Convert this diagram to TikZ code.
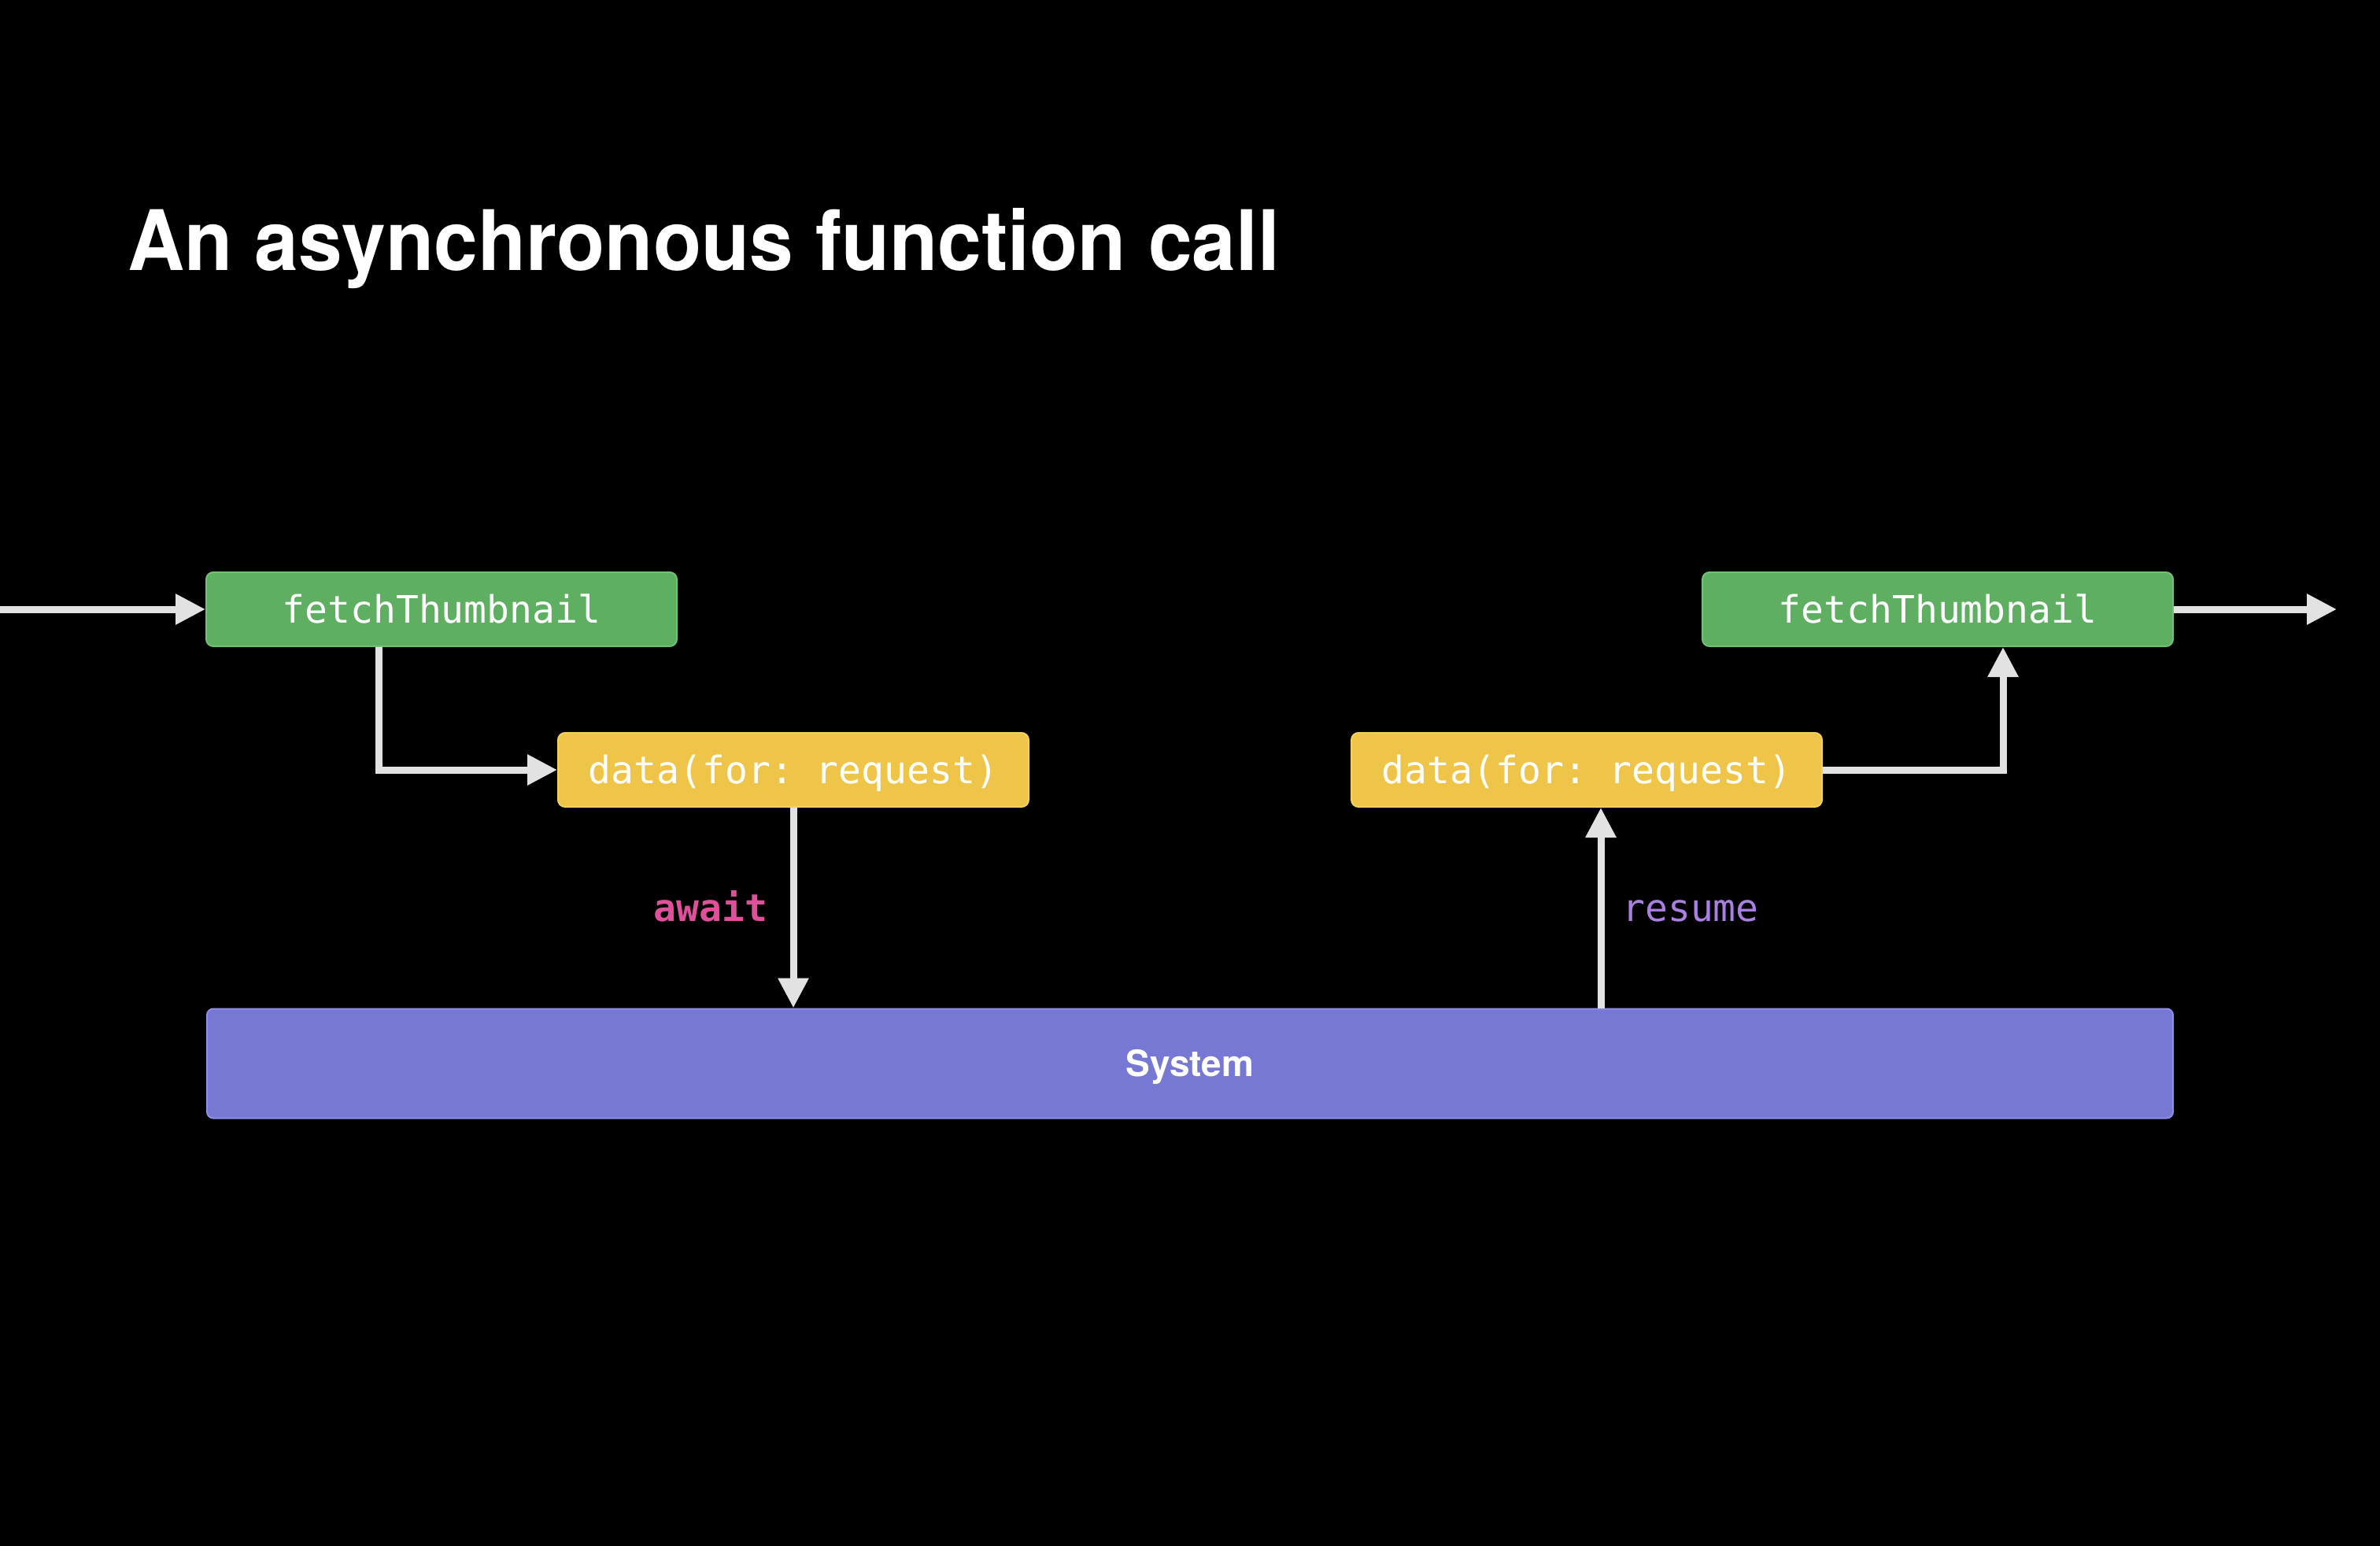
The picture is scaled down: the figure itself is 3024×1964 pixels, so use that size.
\documentclass[tikz,border=0pt]{standalone}
\usepackage{fontspec}
\setmainfont{TeX Gyre Heros}
\setmonofont{DejaVu Sans Mono}
\usetikzlibrary{arrows.meta}
\definecolor{grn}{HTML}{5FAF62}
\definecolor{grnb}{HTML}{72C074}
\definecolor{yel}{HTML}{EEC548}
\definecolor{yelb}{HTML}{F3D060}
\definecolor{sys}{HTML}{7778D3}
\definecolor{sysb}{HTML}{8D8FE6}
\definecolor{arr}{HTML}{E2E2E2}
\definecolor{awaitc}{HTML}{E0509A}
\definecolor{resumec}{HTML}{A97FE2}
\begin{document}
\begin{tikzpicture}[x=1pt,y=-1pt,
  codebox/.style={draw, line width=2pt, rounded corners=9pt, inner sep=0pt,
    minimum width=598pt, minimum height=94pt, text=white,
    font=\fontsize{48}{58}\selectfont\ttfamily, text height=34pt, text depth=0pt},
  greenbox/.style={codebox, fill=grn, draw=grnb},
  yellowbox/.style={codebox, fill=yel, draw=yelb},
  sysbox/.style={draw=sysb, fill=sys, line width=2pt, rounded corners=8pt, inner sep=0pt,
    minimum width=2498pt, minimum height=139pt, text=white,
    font=\fontsize{46}{54}\selectfont\bfseries, text height=32pt, text depth=0pt},
  conn/.style={draw=arr, line width=9pt, -{Triangle[length=38pt,width=37pt]}},
  lbl/.style={font=\fontsize{48}{58}\selectfont\ttfamily, anchor=base, inner sep=0pt}
]
\fill[black] (0,0) rectangle (3024,1964);
\useasboundingbox (0,0) rectangle (3024,1964);

\node[anchor=base west, inner sep=0pt, text=white] (title) at (162,343)
  {\fontsize{106}{120}\selectfont\bfseries\scalebox{0.945}[1]{An asynchronous function call}};

\node[greenbox] (g1) at (561,774) {fetchThumbnail};
\node[greenbox] (g2) at (2462,774) {fetchThumbnail};
\node[yellowbox] (y1) at (1008,978) {data(for: request)};
\node[yellowbox] (y2) at (2016,978) {data(for: request)};
\node[sysbox] (sys) at (1512,1351) {System};

\coordinate (in) at (0,774);
\coordinate (out) at (2969,774);

\draw[conn] (in) -- (g1.west);
\draw[conn] ([xshift=-80pt]g1.south) |- (y1.west);
\draw[conn] (y1.south) -- (y1.south |- sys.north);
\draw[conn] ([xshift=18pt]y2.south |- sys.north) -- ([xshift=18pt]y2.south);
\draw[conn] (y2.east) -| ([xshift=83pt]g2.south);
\draw[conn] (g2.east) -- (out);

\node[lbl, text=awaitc, font=\fontsize{48}{58}\selectfont\ttfamily\bfseries] (aw) at (903,1170) {await};
\node[lbl, text=resumec] (rs) at (2148,1170) {resume};
\end{tikzpicture}
\end{document}
